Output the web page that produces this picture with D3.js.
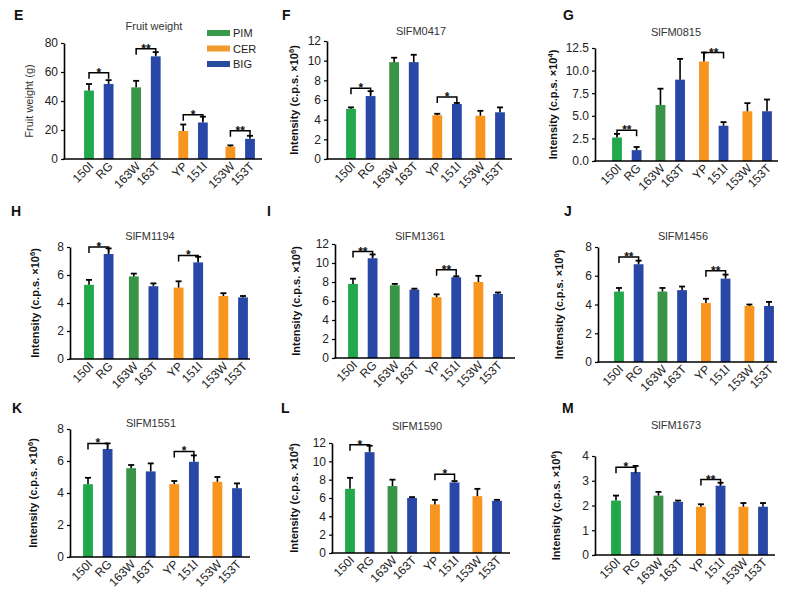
<!DOCTYPE html>
<html><head><meta charset="utf-8">
<script src="https://cdn.jsdelivr.net/npm/d3@7"></script>
<style>
body{margin:0;background:#fff}
svg text{font-family:"Liberation Sans",Arial,Helvetica,sans-serif}
</style>
</head><body>
<svg id="chart" width="799" height="598"></svg>
<script>
// ---------- data ----------
const categories = ["150I","RG","163W","163T","YP","151I","153W","153T"];
const pairGroups = ["p1","p2","p3","p4"];
const pairMembers = ["a","b"];
const barColors = ["#20a84b","#2847a6","#3a9447","#2847a6","#f7951f","#2847a6","#f7951f","#2847a6"];
const legendLabels = ["PIM","CER","BIG"];
const legendColors = ["#3a9a4a","#f39a2e","#2a4aa0"];

const fruitWeight    = [47.2, 51.7, 49.4, 70.8, 19.3, 25.2, 8.5, 13.9];
const fruitWeightErr = [4.5, 2.7, 4.5, 2.9, 4.5, 4.0, 0.9, 2.1];
const fruitWeightSig = [[0,1,"*",59.5],[2,3,"**",76],[4,5,"*",30.5],[6,7,"**",19.5]];

const fm0417    = [5.1, 6.4, 9.85, 9.85, 4.45, 5.6, 4.4, 4.75];
const fm0417Err = [0.15, 0.5, 0.45, 0.75, 0.15, 0.1, 0.5, 0.5];
const fm0417Sig = [[0,1,"*",7.2],[4,5,"*",6.3]];

const fm0815    = [2.6, 1.2, 6.2, 9.0, 11.0, 3.9, 5.5, 5.5];
const fm0815Err = [0.4, 0.35, 1.8, 2.3, 1.0, 0.4, 0.9, 1.3];
const fm0815Sig = [[0,1,"**",3.4],[4,5,"**",12.0]];

const fm1194    = [5.3, 7.5, 5.9, 5.2, 5.1, 6.9, 4.5, 4.4];
const fm1194Err = [0.35, 0.4, 0.2, 0.2, 0.45, 0.4, 0.2, 0.1];
const fm1194Sig = [[0,1,"*",8.0],[4,5,"*",7.4]];

const fm1361    = [7.8, 10.5, 7.65, 7.2, 6.4, 8.5, 8.0, 6.75];
const fm1361Err = [0.55, 0.4, 0.15, 0.1, 0.3, 0.1, 0.65, 0.15];
const fm1361Sig = [[0,1,"**",11.2],[4,5,"**",9.3]];

const fm1456    = [4.9, 6.8, 4.9, 5.0, 4.1, 5.8, 3.9, 3.9];
const fm1456Err = [0.25, 0.25, 0.25, 0.25, 0.3, 0.28, 0.1, 0.28];
const fm1456Sig = [[0,1,"**",7.3],[4,5,"**",6.35]];

const fm1551    = [4.55, 6.75, 5.55, 5.35, 4.55, 5.95, 4.7, 4.3];
const fm1551Err = [0.4, 0.35, 0.2, 0.5, 0.2, 0.4, 0.3, 0.3];
const fm1551Sig = [[0,1,"*",7.1],[4,5,"*",6.6]];

const fm1590    = [7.0, 11.0, 7.3, 6.0, 5.3, 7.7, 6.2, 5.7];
const fm1590Err = [1.2, 0.7, 0.7, 0.1, 0.5, 0.15, 0.8, 0.1];
const fm1590Sig = [[0,1,"*",11.8],[4,5,"*",8.6]];

const fm1673    = [2.2, 3.35, 2.4, 2.15, 1.95, 2.8, 1.95, 1.95];
const fm1673Err = [0.2, 0.25, 0.15, 0.05, 0.1, 0.12, 0.15, 0.15];
const fm1673Sig = [[0,1,"*",3.55],[4,5,"**",3.05]];

const ticks80  = [0,20,40,60,80];
const ticks12  = [0,2,4,6,8,10,12];
const ticks125 = [0,2.5,5,7.5,10,12.5];
const ticks8   = [0,2,4,6,8];
const ticks4   = [0,1,2,3,4];

// ---------- layout ----------
const panels = [
 {letter:"E", title:"Fruit weight", ylab:"Fruit weight (g)", exp:null, v:fruitWeight, e:fruitWeightErr, sig:fruitWeightSig, ticks:ticks80, fmt:d3.format("d"),
  L:{ax:64, axEnd:262, y0:159, yTop:43, c0:89, c7:250, lx:14, ly:20, tx:154, ty:30, ylx:33}},
 {letter:"F", title:"SlFM0417", ylab:"Intensity (c.p.s. ×10", exp:"6", v:fm0417, e:fm0417Err, sig:fm0417Sig, ticks:ticks12, fmt:d3.format("d"),
  L:{ax:327, axEnd:512, y0:159, yTop:41, c0:351, c7:500, lx:282, ly:20, tx:421, ty:35, ylx:298}},
 {letter:"G", title:"SlFM0815", ylab:"Intensity (c.p.s. ×10", exp:"4", v:fm0815, e:fm0815Err, sig:fm0815Sig, ticks:ticks125, fmt:d3.format(".1f"),
  L:{ax:595, axEnd:778, y0:161, yTop:48, c0:617, c7:767, lx:563, ly:20, tx:676, ty:36, ylx:557}},
 {letter:"H", title:"SlFM1194", ylab:"Intensity (c.p.s. ×10", exp:"6", v:fm1194, e:fm1194Err, sig:fm1194Sig, ticks:ticks8, fmt:d3.format("d"),
  L:{ax:70, axEnd:250, y0:359, yTop:247, c0:89, c7:243, lx:11, ly:216, tx:150, ty:240, ylx:39}},
 {letter:"I", title:"SlFM1361", ylab:"Intensity (c.p.s. ×10", exp:"6", v:fm1361, e:fm1361Err, sig:fm1361Sig, ticks:ticks12, fmt:d3.format("d"),
  L:{ax:335, axEnd:515, y0:358, yTop:244, c0:353, c7:498, lx:267, ly:216, tx:420, ty:240, ylx:300}},
 {letter:"J", title:"SlFM1456", ylab:"Intensity (c.p.s. ×10", exp:"6", v:fm1456, e:fm1456Err, sig:fm1456Sig, ticks:ticks8, fmt:d3.format("d"),
  L:{ax:598, axEnd:777, y0:362, yTop:247, c0:619, c7:769, lx:564, ly:216, tx:683, ty:240, ylx:563}},
 {letter:"K", title:"SlFM1551", ylab:"Intensity (c.p.s. ×10", exp:"6", v:fm1551, e:fm1551Err, sig:fm1551Sig, ticks:ticks8, fmt:d3.format("d"),
  L:{ax:70, axEnd:250, y0:557, yTop:429, c0:88, c7:237, lx:12, ly:413, tx:151, ty:427, ylx:37}},
 {letter:"L", title:"SlFM1590", ylab:"Intensity (c.p.s. ×10", exp:"4", v:fm1590, e:fm1590Err, sig:fm1590Sig, ticks:ticks12, fmt:d3.format("d"),
  L:{ax:332, axEnd:510, y0:553, yTop:443, c0:350, c7:497, lx:281, ly:413, tx:417, ty:430, ylx:298}},
 {letter:"M", title:"SlFM1673", ylab:"Intensity (c.p.s. ×10", exp:"6", v:fm1673, e:fm1673Err, sig:fm1673Sig, ticks:ticks4, fmt:d3.format("d"),
  L:{ax:595, axEnd:775, y0:555, yTop:456, c0:616, c7:763, lx:562, ly:413, tx:676, ty:429, ylx:560}}
];

const svg = d3.select("#chart");
const half = 9.8;   // half distance between bars of a pair
const barW = 9.8;

panels.forEach(p => {
  const L = p.L;
  const g = svg.append("g");
  const y = d3.scaleLinear().domain([0, d3.max(p.ticks)]).range([L.y0, L.yTop]);
  const xg = d3.scalePoint().domain(pairGroups).range([L.c0 + half, L.c7 - half]);
  const xm = d3.scalePoint().domain(pairMembers).range([-half, half]);
  const bx = i => xg(pairGroups[Math.floor(i/2)]) + xm(pairMembers[i%2]);

  // letter
  g.append("text").attr("x", L.lx).attr("y", L.ly).attr("font-size", 14).attr("font-weight", "bold").attr("fill","#111").text(p.letter);
  // title
  g.append("text").attr("x", L.tx).attr("y", L.ty).attr("text-anchor","middle").attr("font-size", 11).attr("fill","#333").text(p.title);

  // bars
  g.selectAll("rect.bar").data(p.v).enter().append("rect")
    .attr("x", (d,i) => bx(i) - barW/2).attr("width", barW)
    .attr("y", d => y(d)).attr("height", d => L.y0 - y(d))
    .attr("fill", (d,i) => barColors[i]);

  // error bars
  p.v.forEach((d,i) => {
    const x = bx(i), yt = y(d + p.e[i]);
    g.append("line").attr("x1", x).attr("x2", x).attr("y1", y(d)).attr("y2", yt).attr("stroke","#000").attr("stroke-width",1.6);
    g.append("line").attr("x1", x-3).attr("x2", x+3).attr("y1", yt).attr("y2", yt).attr("stroke","#000").attr("stroke-width",1.8);
  });

  // y axis
  const ya = g.append("g").attr("transform", `translate(${L.ax},0)`)
    .call(d3.axisLeft(y).tickValues(p.ticks).tickFormat(p.fmt).tickSize(3).tickSizeOuter(0));
  ya.select(".domain").attr("stroke","#000").attr("stroke-width",1.6);
  ya.selectAll(".tick line").attr("stroke","#000").attr("stroke-width",1.2);
  ya.selectAll(".tick text").attr("font-size", 12).attr("fill","#222").attr("font-family","Liberation Sans, Arial, sans-serif").attr("x",-6);

  // x axis line
  const xLine = d3.scaleLinear().domain([0,1]).range([L.ax, L.axEnd]);
  g.append("line").attr("x1", xLine(0)-0.8).attr("x2", xLine(1)).attr("y1", L.y0).attr("y2", L.y0)
    .attr("stroke","#000").attr("stroke-width",1.6);

  // x labels
  g.selectAll("text.xl").data(categories).enter().append("text")
    .attr("text-anchor","end").attr("font-size", 12).attr("fill","#222")
    .attr("transform", (d,i) => `translate(${bx(i)+5},${L.y0+8}) rotate(-45)`)
    .text(d => d);

  // y label
  const yl = g.append("text").attr("text-anchor","middle").attr("font-size", 11)
    .attr("transform", `translate(${L.ylx},${(L.y0+L.yTop)/2}) rotate(-90)`);
  if (p.exp) {
    yl.attr("font-weight","bold").attr("fill","#111");
    yl.append("tspan").text(p.ylab);
    yl.append("tspan").attr("dy",-4).attr("font-size",7.5).text(p.exp);
    yl.append("tspan").attr("dy",4).text(")");
  } else {
    yl.attr("fill","#333").text(p.ylab);
  }

  // significance brackets
  p.sig.forEach(s => {
    const x1 = bx(s[0]), x2 = bx(s[1]), yy = y(s[3]);
    g.append("path").attr("d", `M${x1},${yy+6}V${yy}H${x2}V${yy+6}`)
      .attr("fill","none").attr("stroke","#000").attr("stroke-width",1.5);
    g.append("text").attr("x",(x1+x2)/2).attr("y",yy+4).attr("text-anchor","middle")
      .attr("font-size",12).attr("font-weight","bold").attr("fill","#111").text(s[2]);
  });

  // legend (panel E)
  if (p.letter === "E") {
    const lg = g.append("g");
    legendLabels.forEach((lab,i) => {
      const ly = 33 + i*15.5;
      lg.append("rect").attr("x",207).attr("y",ly-3).attr("width",23).attr("height",6).attr("fill",legendColors[i]);
      lg.append("text").attr("x",233).attr("y",ly+4).attr("font-size",11).attr("fill","#222").text(lab);
    });
  }
});
</script>
</body></html>
